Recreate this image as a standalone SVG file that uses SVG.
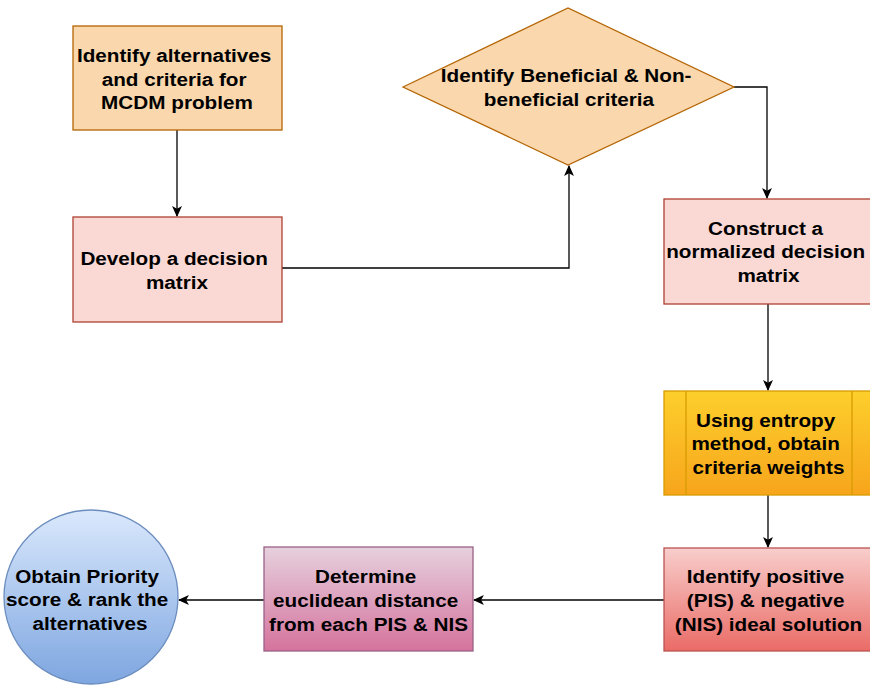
<svg xmlns="http://www.w3.org/2000/svg" width="870" height="686" viewBox="0 0 870 686">
  <style>
    .lbl { font-family: "Liberation Sans", Arial, Helvetica, sans-serif; font-weight: bold; font-size: 19px; fill: #000; text-anchor: middle; }
    .edge { fill: none; stroke: #000; stroke-width: 1.3; }
  </style>
  <defs>
    <marker id="arrow" viewBox="0 0 10 10" refX="9" refY="5" markerWidth="11" markerHeight="11" markerUnits="userSpaceOnUse" orient="auto">
      <path d="M0,0.5 L10,5 L0,9.5 L2.5,5 Z" fill="#000"/>
    </marker>
    <linearGradient id="gYellow" x1="0" y1="0" x2="0" y2="1">
      <stop offset="0" stop-color="#fdcf2c"/>
      <stop offset="1" stop-color="#f7a51c"/>
    </linearGradient>
    <linearGradient id="gRed" x1="0" y1="0" x2="0" y2="1">
      <stop offset="0" stop-color="#f8cecc"/>
      <stop offset="1" stop-color="#ea6b66"/>
    </linearGradient>
    <linearGradient id="gPink" x1="0" y1="0" x2="0" y2="1">
      <stop offset="0" stop-color="#e6d0de"/>
      <stop offset="1" stop-color="#d5739d"/>
    </linearGradient>
    <linearGradient id="gBlue" x1="0" y1="0" x2="0" y2="1">
      <stop offset="0" stop-color="#dae8fc"/>
      <stop offset="1" stop-color="#7ea6e0"/>
    </linearGradient>
  </defs>

  <rect width="870" height="686" fill="#fff"/>

  <!-- connectors -->
  <g id="connectors">
    <path class="edge" d="M177,130 L177,216" marker-end="url(#arrow)"/>
    <path class="edge" d="M282,268 L569,268 L569,166" marker-end="url(#arrow)"/>
    <path class="edge" d="M734,87 L767,87 L767,198" marker-end="url(#arrow)"/>
    <path class="edge" d="M768,304 L768,390" marker-end="url(#arrow)"/>
    <path class="edge" d="M768,495 L768,547" marker-end="url(#arrow)"/>
    <path class="edge" d="M664,600 L474,600" marker-end="url(#arrow)"/>
    <path class="edge" d="M264,600 L179,600" marker-end="url(#arrow)"/>
  </g>

  <!-- start: alternatives and criteria -->
  <g id="node-identify">
    <rect x="73" y="26" width="209" height="104" fill="#fad7ac" stroke="#b46504" stroke-width="1.3"/>
    <text class="lbl" transform="translate(177 0) scale(1.09 1)">
      <tspan x="0" y="62">Identify alternatives</tspan>
      <tspan x="0" y="86">and criteria for</tspan>
      <tspan x="0" y="109">MCDM problem</tspan>
    </text>
  </g>

  <g id="node-develop">
    <rect x="73" y="217" width="209" height="105" fill="#fad9d5" stroke="#ae4132" stroke-width="1.3"/>
    <text class="lbl" transform="translate(177 0) scale(1.09 1)">
      <tspan x="0" y="265">Develop a decision</tspan>
      <tspan x="0" y="289">matrix</tspan>
    </text>
  </g>

  <g id="node-beneficial">
    <polygon points="403,87 568,8 734,87 568,165" fill="#fad7ac" stroke="#b46504" stroke-width="1.3"/>
    <text class="lbl" transform="translate(569 0) scale(1.09 1)">
      <tspan x="0" y="82">Identify Beneficial &amp; Non-</tspan>
      <tspan x="0" y="106">beneficial criteria</tspan>
    </text>
  </g>

  <g id="node-normalize">
    <rect x="664" y="199" width="209" height="105" fill="#fad9d5" stroke="#ae4132" stroke-width="1.3"/>
    <text class="lbl" transform="translate(768.5 0) scale(1.09 1)">
      <tspan x="0" y="235">Construct a</tspan>
      <tspan x="0" y="258">normalized decision</tspan>
      <tspan x="0" y="282">matrix</tspan>
    </text>
  </g>

  <g id="node-entropy">
    <rect x="664" y="391" width="209" height="104" fill="url(#gYellow)" stroke="#d79b00" stroke-width="1.3"/>
    <line x1="686" y1="391" x2="686" y2="495" stroke="#d79b00" stroke-width="1.3"/>
    <line x1="852" y1="391" x2="852" y2="495" stroke="#d79b00" stroke-width="1.3"/>
    <text class="lbl" transform="translate(768.5 0) scale(1.09 1)">
      <tspan x="0" y="427">Using entropy</tspan>
      <tspan x="0" y="450">method, obtain</tspan>
      <tspan x="0" y="474">criteria weights</tspan>
    </text>
  </g>

  <g id="node-ideal">
    <rect x="664" y="548" width="209" height="103" fill="url(#gRed)" stroke="#b85450" stroke-width="1.3"/>
    <text class="lbl" transform="translate(768.5 0) scale(1.09 1)">
      <tspan x="0" y="583">Identify positive</tspan>
      <tspan x="0" y="607">(PIS) &amp; negative</tspan>
      <tspan x="0" y="631">(NIS) ideal solution</tspan>
    </text>
  </g>

  <g id="node-distance">
    <rect x="264" y="547" width="209" height="104" fill="url(#gPink)" stroke="#996185" stroke-width="1.3"/>
    <text class="lbl" transform="translate(368.5 0) scale(1.09 1)">
      <tspan x="0" y="583">Determine</tspan>
      <tspan x="0" y="607">euclidean distance</tspan>
      <tspan x="0" y="631">from each PIS &amp; NIS</tspan>
    </text>
  </g>

  <g id="node-rank">
    <circle cx="91" cy="597" r="87" fill="url(#gBlue)" stroke="#6c8ebf" stroke-width="1.3"/>
    <text class="lbl" transform="translate(90 0) scale(1.09 1)">
      <tspan x="0" y="583">Obtain Priority</tspan>
      <tspan x="0" y="606">score &amp; rank the</tspan>
      <tspan x="0" y="630">alternatives</tspan>
    </text>
  </g>
</svg>
